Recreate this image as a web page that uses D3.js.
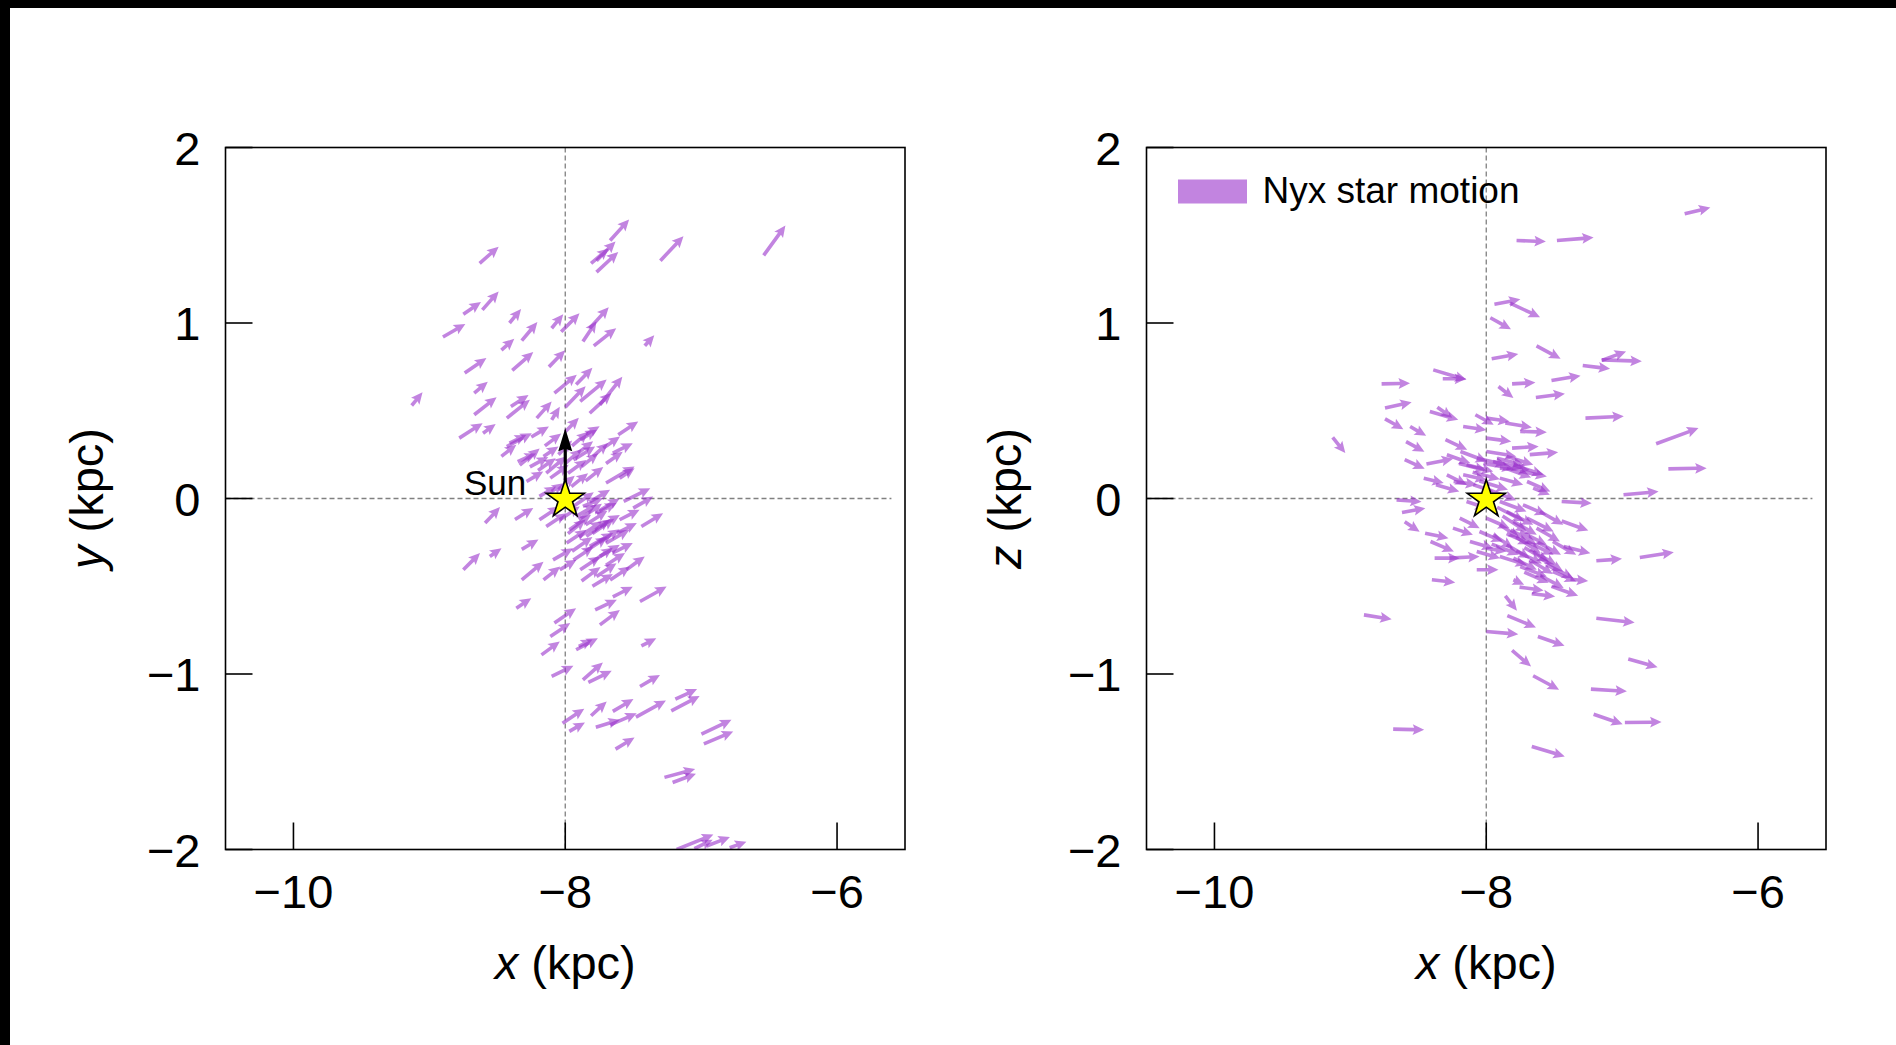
<!DOCTYPE html>
<html>
<head>
<meta charset="utf-8">
<script src="https://cdn.jsdelivr.net/npm/d3@7"></script>
<style>
  body { margin: 0; background: #fff; }
  svg { display: block; }
  text { font-family: "Liberation Sans", Arial, Helvetica, sans-serif; fill: #000; }
</style>
</head>
<body>
<svg id="chart" width="1896" height="1045"></svg>
<script>
// Axis setup (kpc)
const xDomain = [-10.5, -5.5];
const yDomain = [-2, 2];
const xTicks = [-10, -8, -6];
const yTicks = [-2, -1, 0, 1, 2];

// Sun position and its motion arrow (kpc)
const sunPosition = [-8, 0];
const sunMotion = [0, 0.4];

// Nyx stars in the x-y plane: [x, y, dx, dy] (tail position and arrow extent, kpc)
const xyArrows = [
  [-8.63,1.34,0.14,0.095],[-7.67,1.47,0.14,0.12],[-7.81,1.34,0.13,0.085],[-7.77,1.355,0.14,0.11],
  [-7.77,1.29,0.16,0.115],[-7.30,1.355,0.17,0.14],[-6.54,1.385,0.16,0.17],[-8.75,1.05,0.13,0.07],
  [-8.61,1.075,0.12,0.105],[-8.90,0.92,0.165,0.075],[-8.41,1.0,0.085,0.08],[-8.32,0.90,0.115,0.105],
  [-8.10,0.97,0.085,0.08],[-8.03,0.95,0.135,0.105],[-7.87,0.895,0.10,0.115],[-7.82,0.97,0.14,0.12],
  [-7.79,0.87,0.165,0.10],[-7.415,0.87,0.07,0.06],[-8.47,0.845,0.095,0.065],[-8.74,0.715,0.16,0.085],
  [-8.39,0.73,0.155,0.105],[-8.12,0.75,0.12,0.095],[-9.13,0.53,0.08,0.075],[-8.67,0.60,0.10,0.065],
  [-8.67,0.477,0.165,0.10],[-8.43,0.458,0.17,0.105],[-8.40,0.524,0.13,0.066],[-8.08,0.60,0.165,0.105],
  [-7.92,0.65,0.12,0.095],[-8.00,0.52,0.15,0.12],[-7.89,0.553,0.195,0.125],[-7.82,0.486,0.16,0.115],
  [-7.745,0.534,0.165,0.16],[-8.21,0.458,0.11,0.095],[-8.10,0.448,0.06,0.075],
  [-8.78,0.344,0.172,0.085],[-8.605,0.372,0.093,0.053],[-7.61,0.363,0.147,0.076],[-8.43,0.296,0.184,0.076],
  [-8.47,0.24,0.11,0.066],[-8.335,0.19,0.147,0.095],[-7.89,0.335,0.123,0.057],[-7.94,0.22,0.16,0.076],
  [-7.65,0.258,0.147,0.057],[-7.70,0.088,0.21,0.095],[-7.57,-0.017,0.196,0.076],[-7.50,-0.055,0.147,0.066],
  [-7.44,-0.16,0.16,0.076],[-8.59,-0.14,0.11,0.091],[-8.37,-0.12,0.135,0.066],[-8.19,-0.121,0.147,0.076],
  [-8.14,0.144,0.147,0.095],[-8.75,-0.406,0.123,0.095],[-8.555,-0.33,0.086,0.047],[-8.32,-0.29,0.123,0.057],
  [-8.32,-0.464,0.16,0.104],[-8.16,-0.464,0.123,0.076],[-8.36,-0.625,0.11,0.057],[-7.77,-0.445,0.147,0.076],
  [-7.67,-0.464,0.147,0.076],[-7.55,-0.406,0.135,0.076],[-7.65,-0.56,0.147,0.057],[-7.45,-0.587,0.196,0.085],
  [-7.78,-0.634,0.16,0.057],[-8.08,-0.71,0.16,0.085],[-7.745,-0.72,0.147,0.085],[-8.11,-0.786,0.147,0.076],
  [-8.41,0.315,0.123,0.047],[-8.35,0.21,0.135,0.047],[-8.26,0.18,0.135,0.057],[-8.16,0.24,0.11,0.057],
  [-8.11,0.116,0.135,0.076],[-7.98,0.144,0.135,0.076],[-7.955,0.068,0.123,0.076],[-7.905,0.26,0.11,0.066],
  [-7.88,0.182,0.123,0.076],[-7.845,0.365,0.098,0.047],[-7.795,0.24,0.11,0.076],[-7.70,0.20,0.123,0.066],
  [-7.72,0.287,0.123,0.066],[-7.60,0.116,0.11,0.057],[-8.285,0.097,0.123,0.057],[-8.19,0.012,0.123,0.057],
  [-8.10,0.04,0.086,0.047],
  [-8.14,-0.16,0.147,0.076],[-8.04,-0.121,0.147,0.076],[-7.97,-0.178,0.16,0.085],[-7.92,-0.102,0.147,0.066],
  [-7.845,-0.216,0.172,0.095],[-7.745,-0.16,0.147,0.066],[-7.82,-0.273,0.172,0.076],[-7.70,-0.254,0.172,0.076],
  [-7.99,-0.254,0.147,0.076],[-7.94,-0.35,0.147,0.076],[-8.09,-0.35,0.147,0.066],[-7.62,-0.197,0.147,0.057],
  [-7.745,-0.33,0.147,0.066],[-7.89,-0.406,0.147,0.076],[-8.04,-0.406,0.123,0.057],[-7.65,-0.31,0.147,0.057],
  [-7.60,-0.121,0.147,0.057],[-7.87,-0.045,0.147,0.047],[-7.77,-0.083,0.147,0.057],
  [-7.95,-0.05,0.16,0.085],[-7.90,-0.12,0.17,0.09],[-7.85,-0.15,0.16,0.08],[-7.80,-0.20,0.16,0.085],
  [-7.90,-0.22,0.17,0.09],[-7.75,-0.25,0.15,0.075],[-7.85,-0.30,0.16,0.08],[-7.80,-0.36,0.15,0.08],
  [-7.95,-0.30,0.15,0.08],[-7.70,-0.38,0.14,0.07],[-7.88,-0.47,0.14,0.08],[-7.80,-0.50,0.15,0.07],
  [-7.98,-0.20,0.13,0.08],[-7.82,-0.02,0.15,0.07],[-7.75,-0.07,0.15,0.07],
  [-8.05,0.05,0.12,0.08],[-8.00,0.20,0.12,0.08],[-8.15,0.30,0.12,0.07],[-7.95,0.30,0.12,0.08],
  [-8.05,0.25,0.10,0.08],[-8.20,0.16,0.13,0.07],[-7.85,0.10,0.13,0.08],[-8.00,0.38,0.10,0.08],
  [-8.25,0.35,0.13,0.06],
  [-8.175,-0.891,0.135,0.076],[-7.92,-0.862,0.16,0.066],[-7.90,-0.843,0.10,0.04],[-7.44,-0.84,0.11,0.044],
  [-8.10,-1.014,0.16,0.061],[-7.87,-1.033,0.147,0.099],[-7.83,-1.048,0.172,0.066],[-7.45,-1.071,0.147,0.066],
  [-7.19,-1.143,0.16,0.057],[-7.22,-1.21,0.209,0.084],[-8.02,-1.28,0.16,0.082],[-7.97,-1.327,0.115,0.051],
  [-7.81,-1.238,0.115,0.082],[-7.65,-1.213,0.152,0.07],[-7.775,-1.303,0.177,0.042],[-7.67,-1.29,0.196,0.066],
  [-7.48,-1.246,0.221,0.095],[-7.63,-1.428,0.14,0.066],[-6.998,-1.343,0.221,0.082],[-6.98,-1.398,0.216,0.07],
  [-7.27,-1.589,0.226,0.047],[-7.21,-1.618,0.172,0.049],[-7.18,-2.0,0.27,0.085],[-7.05,-1.995,0.135,0.05],
  [-6.96,-1.98,0.172,0.051],[-6.79,-1.99,0.123,0.034]
];

// Nyx stars in the x-z plane: [x, z, dx, dz] (tail position and arrow extent, kpc)
const xzArrows = [
  [-6.54,1.622,0.189,0.036],[-7.777,1.47,0.216,-0.006],[-7.48,1.47,0.27,0.017],[-7.94,1.107,0.191,0.028],
  [-7.825,1.113,0.221,-0.08],[-7.97,1.03,0.152,-0.066],[-7.96,0.796,0.196,0.028],[-7.63,0.87,0.177,-0.074],
  [-7.15,0.787,0.179,0.051],[-7.15,0.79,0.295,-0.008],[-7.29,0.758,0.201,-0.019],[-8.39,0.733,0.245,-0.057],
  [-8.32,0.682,0.172,0],[-7.52,0.672,0.214,0.028],[-7.81,0.653,0.172,0.008],[-8.77,0.653,0.209,0.004],
  [-7.91,0.638,0.11,-0.066],[-7.635,0.576,0.214,0.021],[-8.745,0.515,0.196,0.034],[-8.415,0.496,0.209,-0.047],
  [-8.36,0.52,0.11,-0.06],[-8.08,0.477,0.135,-0.057],[-8.0,0.458,0.172,-0.019],[-7.86,0.43,0.196,-0.025],
  [-7.75,0.382,0.196,-0.004],[-8.17,0.41,0.172,-0.019],[-7.27,0.458,0.282,0.01],[-8.745,0.454,0.135,-0.059],
  [-8.56,0.41,0.118,-0.053],[-9.13,0.348,0.093,-0.089],[-6.75,0.312,0.312,0.089],[-8.59,0.324,0.135,-0.057],
  [-8.30,0.335,0.16,-0.057],[-8.0,0.344,0.184,-0.019],[-7.81,0.287,0.196,0.01],[-7.68,0.25,0.209,0.013],
  [-6.66,0.169,0.282,0.004],[-8.60,0.221,0.147,-0.051],[-8.44,0.196,0.196,0.03],[-8.46,0.116,0.147,-0.028],
  [-6.99,0.021,0.258,0.019],[-8.66,-0.008,0.184,-0.01],[-8.62,-0.08,0.172,0.025],[-7.445,-0.017,0.221,-0.01],
  [-7.445,-0.128,0.196,-0.055],[-8.60,-0.133,0.11,-0.057],[-8.45,-0.198,0.172,-0.028],[-8.41,-0.245,0.172,-0.057],
  [-8.38,-0.34,0.184,0],[-8.27,-0.34,0.221,0.01],[-7.43,-0.274,0.196,-0.038],[-7.19,-0.355,0.189,0.011],
  [-6.87,-0.336,0.25,0.03],[-8.07,-0.406,0.16,0],
  [-8.29,0.249,0.172,-0.047],[-8.19,0.268,0.196,-0.057],[-8.145,0.192,0.196,-0.038],[-8.07,0.23,0.221,-0.038],
  [-8.0,0.268,0.221,-0.028],[-7.95,0.211,0.221,-0.038],[-7.90,0.173,0.221,-0.01],[-7.85,0.24,0.196,-0.047],
  [-7.80,0.192,0.221,-0.057],[-7.75,0.154,0.196,-0.028],[-8.17,0.135,0.172,-0.028],[-8.29,0.135,0.147,-0.057],
  [-8.24,0.097,0.172,-0.019],[-8.37,0.078,0.172,-0.038],[-7.70,0.097,0.172,-0.057],[-7.655,0.059,0.123,-0.038],
  [-8.095,0.078,0.147,-0.038],[-7.90,0.116,0.172,-0.038],
  [-8.10,0.15,0.20,-0.04],[-8.05,0.10,0.21,-0.05],[-7.98,0.05,0.20,-0.06],[-8.02,0.20,0.22,-0.03],
  [-7.92,0.23,0.20,-0.04],[-8.20,0.20,0.20,-0.04],[-7.85,0.17,0.18,-0.05],
  [-7.90,-0.017,0.196,-0.057],[-7.85,-0.074,0.196,-0.076],[-7.80,-0.131,0.172,-0.076],[-7.75,-0.188,0.196,-0.076],
  [-7.70,-0.245,0.196,-0.076],[-7.655,-0.302,0.172,-0.076],[-7.605,-0.34,0.172,-0.076],[-7.555,-0.378,0.196,-0.076],
  [-7.90,-0.15,0.147,-0.076],[-7.95,-0.207,0.147,-0.076],[-8.0,-0.112,0.172,-0.057],[-8.05,-0.188,0.172,-0.057],
  [-7.85,-0.264,0.172,-0.076],[-7.80,-0.34,0.172,-0.066],[-7.75,-0.388,0.196,-0.057],[-7.70,-0.112,0.196,-0.076],
  [-7.63,-0.169,0.172,-0.076],[-8.195,-0.112,0.147,-0.057],[-8.245,-0.169,0.147,-0.038],[-8.12,-0.245,0.172,-0.038],
  [-8.0,-0.283,0.147,-0.019],[-8.07,-0.302,0.172,-0.038],[-7.51,-0.245,0.172,-0.076],[-7.605,-0.074,0.172,-0.076],
  [-7.73,-0.036,0.172,-0.057],[-8.145,-0.017,0.147,-0.038],[-7.51,-0.416,0.172,-0.057],
  [-7.92,-0.05,0.20,-0.08],[-7.88,-0.10,0.18,-0.09],[-7.82,-0.18,0.19,-0.08],[-7.78,-0.22,0.18,-0.09],
  [-7.72,-0.28,0.18,-0.08],[-7.68,-0.35,0.17,-0.08],[-7.78,-0.30,0.19,-0.07],[-7.85,-0.20,0.17,-0.06],
  [-7.62,-0.25,0.17,-0.07],[-7.96,-0.26,0.20,-0.06],[-7.90,-0.33,0.20,-0.05],[-7.72,-0.42,0.18,-0.06],
  [-7.60,-0.44,0.17,-0.07],
  [-8.40,-0.463,0.172,-0.015],[-7.80,-0.463,0.079,-0.028],[-7.38,-0.46,0.13,-0.01],[-7.755,-0.505,0.177,-0.019],
  [-7.665,-0.543,0.172,-0.015],[-7.52,-0.501,0.196,-0.053],[-7.86,-0.555,0.086,-0.084],[-8.90,-0.663,0.204,-0.025],
  [-7.19,-0.682,0.282,-0.025],[-7.845,-0.667,0.211,-0.068],[-8.0,-0.758,0.236,-0.015],[-7.62,-0.786,0.196,-0.053],
  [-7.81,-0.866,0.14,-0.091],[-6.955,-0.915,0.216,-0.046],[-7.655,-1.01,0.191,-0.08],[-7.23,-1.086,0.265,-0.013],
  [-7.21,-1.229,0.214,-0.057],[-6.98,-1.276,0.27,0.002],[-8.685,-1.314,0.228,-0.004],[-7.665,-1.413,0.243,-0.057]
];

const W = 1896, H = 1045;
const plotTop = 147.5, plotBottom = 849.5, plotWidth = 679.5;
const arrowColor = "darkorchid";
const arrowAlpha = 0.6;

const svg = d3.select("#chart");
svg.append("rect").attr("width", W).attr("height", H).attr("fill", "#fff");
// dark edge bands along the top and left of the figure
svg.append("rect").attr("x", 0).attr("y", 0).attr("width", W).attr("height", 8).attr("fill", "#000");
svg.append("rect").attr("x", 0).attr("y", 0).attr("width", 10).attr("height", H).attr("fill", "#000");

// quiver-style arrow outline between two screen points
function arrowPath(x0, y0, x1, y1, opt) {
  const dx = x1 - x0, dy = y1 - y0, L = Math.hypot(dx, dy);
  const ux = dx / L, uy = dy / L, nx = -uy, ny = ux;
  let { hw, hh, hl, hal } = opt;
  if (L < hl) { const s = L / hl; hh *= s; hl *= s; hal *= s; }
  const pts = [[0, -hw], [L - hal, -hw], [L - hl, -hh], [L, 0], [L - hl, hh], [L - hal, hw], [0, hw]];
  return "M" + pts.map(([a, b]) => (x0 + ux * a + nx * b).toFixed(2) + "," + (y0 + uy * a + ny * b).toFixed(2)).join("L") + "Z";
}

// five-pointed star outline
function starPath(cx, cy, R) {
  const r = R * 0.382, pts = [];
  for (let i = 0; i < 10; i++) {
    const rad = i % 2 === 0 ? R : r;
    const a = -Math.PI / 2 + i * Math.PI / 5;
    pts.push([cx + rad * Math.cos(a), cy + rad * Math.sin(a)]);
  }
  return "M" + pts.map(p => p[0].toFixed(2) + "," + p[1].toFixed(2)).join("L") + "Z";
}

const panels = [
  { left: 225.5, vName: "y", data: xyArrows, sunArrow: true, legend: false, titleX: 103 },
  { left: 1146.5, vName: "z", data: xzArrows, sunArrow: false, legend: true, titleX: 1021 }
];

panels.forEach((p, i) => {
  const x = d3.scaleLinear().domain(xDomain).range([p.left, p.left + plotWidth]);
  const y = d3.scaleLinear().domain(yDomain).range([plotBottom, plotTop]);
  const g = svg.append("g");

  const clipId = "clip" + i;
  g.append("clipPath").attr("id", clipId).append("rect")
    .attr("x", p.left).attr("y", plotTop).attr("width", plotWidth).attr("height", plotBottom - plotTop);

  // reference lines through the Sun
  g.append("line")
    .attr("x1", x(xDomain[0])).attr("x2", x(-5.6))
    .attr("y1", y(sunPosition[1])).attr("y2", y(sunPosition[1]))
    .attr("stroke", "#808080").attr("stroke-width", 1.3).attr("stroke-dasharray", "5,3");
  g.append("line")
    .attr("x1", x(sunPosition[0])).attr("x2", x(sunPosition[0]))
    .attr("y1", y(yDomain[1])).attr("y2", y(yDomain[0]))
    .attr("stroke", "#808080").attr("stroke-width", 1.3).attr("stroke-dasharray", "5,3");

  // star motion arrows
  g.append("g").attr("clip-path", `url(#${clipId})`)
    .selectAll("path").data(p.data).join("path")
    .attr("d", d => arrowPath(x(d[0]), y(d[1]), x(d[0] + d[2]), y(d[1] + d[3]),
      { hw: 1.8, hh: 5.4, hl: 11.5, hal: 10 }))
    .attr("fill", arrowColor).attr("fill-opacity", arrowAlpha).attr("stroke", "none");

  // Sun's own motion
  if (p.sunArrow) {
    g.append("path")
      .attr("d", arrowPath(x(sunPosition[0]), y(sunPosition[1]),
        x(sunPosition[0] + sunMotion[0]), y(sunPosition[1] + sunMotion[1]),
        { hw: 1.6, hh: 7, hl: 23, hal: 21 }))
      .attr("fill", "#000");
    g.append("text")
      .attr("x", x(sunPosition[0]) - 39).attr("y", y(sunPosition[1]) - 4)
      .attr("text-anchor", "end").attr("font-size", 35).text("Sun");
  }

  // Sun marker
  g.append("path")
    .attr("d", starPath(x(sunPosition[0]), y(sunPosition[1]) + 1, 20))
    .attr("fill", "#ffff00").attr("stroke", "#000").attr("stroke-width", 1.6).attr("stroke-linejoin", "miter");

  // frame
  g.append("rect")
    .attr("x", p.left).attr("y", plotTop).attr("width", plotWidth).attr("height", plotBottom - plotTop)
    .attr("fill", "none").attr("stroke", "#000").attr("stroke-width", 1.6);

  // inward ticks
  const tickLen = 27;
  g.selectAll(".xt").data(xTicks).join("line")
    .attr("x1", d => x(d)).attr("x2", d => x(d))
    .attr("y1", plotBottom).attr("y2", plotBottom - tickLen)
    .attr("stroke", "#000").attr("stroke-width", 1.6);
  g.selectAll(".yt").data(yTicks).join("line")
    .attr("x1", p.left).attr("x2", p.left + tickLen)
    .attr("y1", d => y(d)).attr("y2", d => y(d))
    .attr("stroke", "#000").attr("stroke-width", 1.6);

  const fmt = d => (d < 0 ? "\u2212" : "") + Math.abs(d);
  g.selectAll(".xl").data(xTicks).join("text")
    .attr("x", d => x(d)).attr("y", plotBottom + 58)
    .attr("text-anchor", "middle").attr("font-size", 47).text(fmt);
  g.selectAll(".yl").data(yTicks).join("text")
    .attr("x", p.left - 25).attr("y", d => y(d) + 17)
    .attr("text-anchor", "end").attr("font-size", 47).text(fmt);

  // axis titles
  const xt = g.append("text").attr("x", p.left + plotWidth / 2).attr("y", 979)
    .attr("text-anchor", "middle").attr("font-size", 47);
  xt.append("tspan").attr("font-style", "italic").text("x");
  xt.append("tspan").text(" (kpc)");
  const yt = g.append("text")
    .attr("transform", `translate(${p.titleX},${(plotTop + plotBottom) / 2}) rotate(-90)`)
    .attr("text-anchor", "middle").attr("font-size", 47);
  yt.append("tspan").attr("font-style", "italic").text(p.vName);
  yt.append("tspan").text(" (kpc)");

  // legend
  if (p.legend) {
    g.append("rect").attr("x", p.left + 31.5).attr("y", 179.5).attr("width", 69).attr("height", 24)
      .attr("fill", arrowColor).attr("fill-opacity", arrowAlpha);
    g.append("text").attr("x", p.left + 116).attr("y", 203).attr("font-size", 37).text("Nyx star motion");
  }
});
</script>
</body>
</html>
